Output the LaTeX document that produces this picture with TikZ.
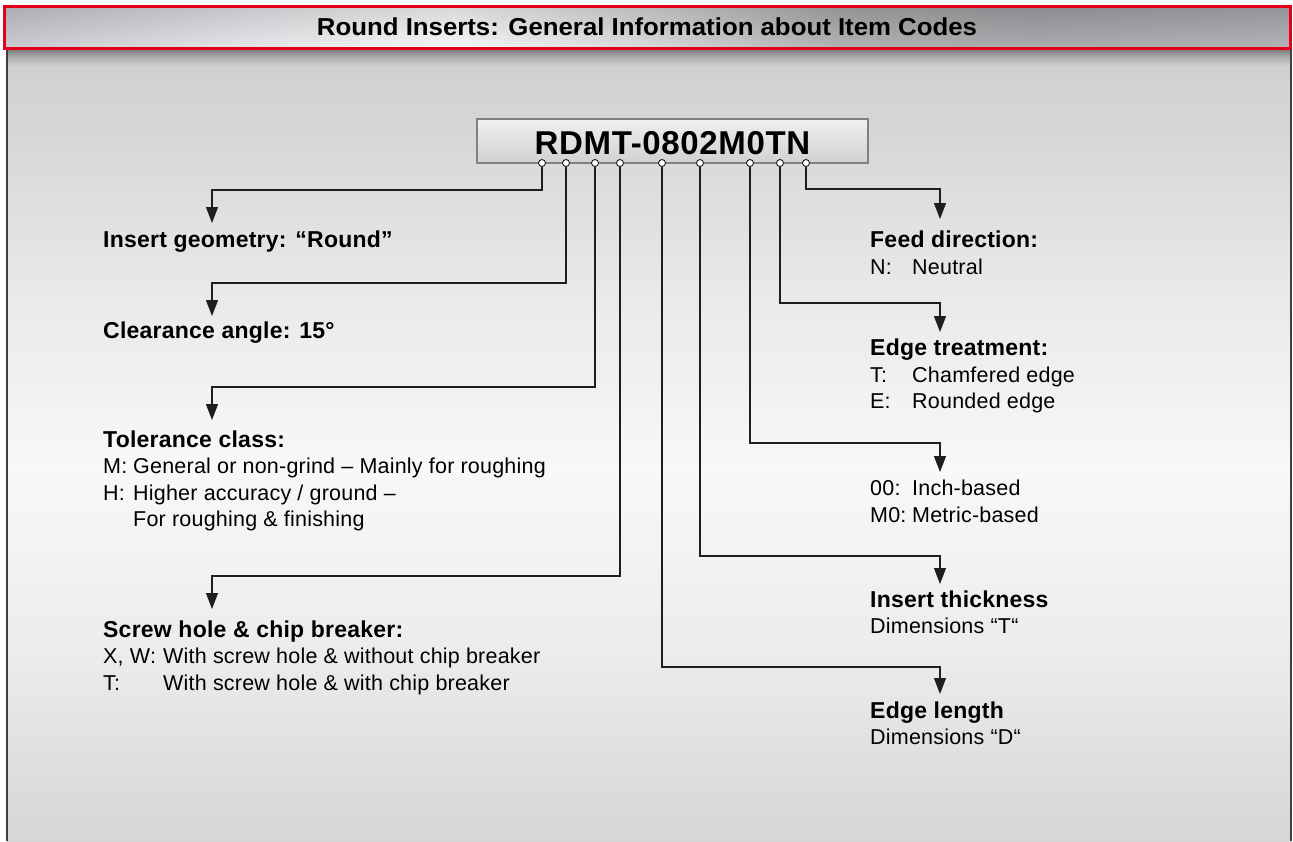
\documentclass[tikz,border=0pt]{standalone}
\usepackage{fontspec}
\setmainfont{Liberation Sans}
\newfontfamily\lab[LetterSpace=1]{Liberation Sans}
\newfontfamily\codef[LetterSpace=2]{Liberation Sans}
\usetikzlibrary{arrows.meta}
\definecolor{redb}{HTML}{E2001A}
\definecolor{linec}{HTML}{1E1E1E}
\definecolor{bga}{HTML}{D6D6D6}
\definecolor{bgb}{HTML}{ECECEC}
\definecolor{bgc}{HTML}{F8F8F8}
\definecolor{bgd}{HTML}{EAEAEA}
\definecolor{bge}{HTML}{D6D6D6}
\definecolor{bgf}{HTML}{D0D0D0}
\definecolor{sha}{HTML}{7C7C7C}
\definecolor{shb}{HTML}{ABABAB}
\definecolor{ta}{HTML}{C4C4CA}
\definecolor{tb}{HTML}{E4E4E8}
\definecolor{tc}{HTML}{F6F6F8}
\definecolor{td}{HTML}{D4D4D6}
\definecolor{te}{HTML}{A8A8AA}
\definecolor{tf}{HTML}{A0A0A4}
\definecolor{tg}{HTML}{AAAAAE}
\pgfdeclareverticalshading{bgshade}{100bp}{color(0bp)=(bge); color(25bp)=(bge); color(37bp)=(bgb); color(48.5bp)=(bgc); color(59bp)=(bgd); color(70bp)=(bga); color(75bp)=(bgf); color(100bp)=(bgf)}
\pgfdeclareverticalshading{shadowshade}{100bp}{color(0bp)=(bgf); color(25bp)=(bgf); color(47.5bp)=(bgf); color(62.5bp)=(shb); color(75bp)=(sha); color(100bp)=(sha)}
\pgfdeclarehorizontalshading{titleshade}{100bp}{color(0bp)=(ta); color(25bp)=(ta); color(35bp)=(tb); color(42.5bp)=(tc); color(50bp)=(td); color(57.5bp)=(te); color(65bp)=(tf); color(75bp)=(tg); color(100bp)=(tg)}
\tikzset{
  conn/.style={draw=linec, line width=1.1pt, -{Triangle[width=12pt,length=16pt]}},
  dot/.style={circle, draw=linec, fill=white, line width=0.9pt, inner sep=0pt, minimum size=7pt},
  head/.style={anchor=base west, inner sep=0pt, font=\lab\bfseries\fontsize{23}{27}\selectfont, text=black},
  body/.style={anchor=base west, inner sep=0pt, font=\lab\fontsize{21.5}{25}\selectfont, text=black},
}
\begin{document}
\begin{tikzpicture}[x=1pt,y=-1pt]
\useasboundingbox (0,0) rectangle (1293,841);
\fill[white] (0,0) rectangle (1293,841);
% panel background
\shade[shading=bgshade] (7,49) rectangle (1291,841);
\shade[shading=shadowshade] (7,49) rectangle (1291,80);
\draw[black!75, line width=2pt] (7,50) -- (7,841);
\draw[black!75, line width=2pt] (1291,50) -- (1291,841);
% title bar
\shade[shading=titleshade] (4,6) rectangle (1290,48);
\shade[top color=black, bottom color=white, fill opacity=0.12] (4,6) rectangle (1290,48);
\draw[redb, line width=3pt] (4,6) rectangle (1290,48);
\node[inner sep=0pt, anchor=base] (title) at (647,35) {\resizebox{660pt}{\height}{\bfseries\fontsize{24.5}{28}\selectfont Round Inserts: General Information about Item Codes}};
% code box
\shade[top color=black!6, middle color=white, bottom color=black!18, draw=black!50, line width=1.3pt] (477,119) rectangle (868,163);
\node[inner sep=0pt, anchor=base, font=\codef\bfseries\fontsize{33}{37}\selectfont] (code) at (672.5,154) {RDMT-0802M0TN};
% dot positions
\coordinate (p1) at (542,163);
\coordinate (p2) at (566,163);
\coordinate (p3) at (595,163);
\coordinate (p4) at (620,163);
\coordinate (p5) at (662,163);
\coordinate (p6) at (700,163);
\coordinate (p7) at (750,163);
\coordinate (p8) at (780,163);
\coordinate (p9) at (806,163);
% bends and arrow targets
\coordinate (a1) at (212,190); \coordinate (t1) at (212,223);
\coordinate (a2) at (212,283); \coordinate (t2) at (212,316);
\coordinate (a3) at (212,387); \coordinate (t3) at (212,420);
\coordinate (a4) at (212,576); \coordinate (t4) at (212,609);
\coordinate (b1) at (940,189); \coordinate (u1) at (940,219);
\coordinate (b2) at (940,303); \coordinate (u2) at (940,332);
\coordinate (b3) at (940,443); \coordinate (u3) at (940,472);
\coordinate (b4) at (940,556); \coordinate (u4) at (940,584);
\coordinate (b5) at (940,667); \coordinate (u5) at (940,694);
% connectors
\draw[conn] (p1) |- (a1) -- (t1);
\draw[conn] (p2) |- (a2) -- (t2);
\draw[conn] (p3) |- (a3) -- (t3);
\draw[conn] (p4) |- (a4) -- (t4);
\draw[conn] (p9) |- (b1) -- (u1);
\draw[conn] (p8) |- (b2) -- (u2);
\draw[conn] (p7) |- (b3) -- (u3);
\draw[conn] (p6) |- (b4) -- (u4);
\draw[conn] (p5) |- (b5) -- (u5);
% dots
\foreach \i in {1,...,9} { \node[dot] (d\i) at (p\i) {}; }
% left labels
\node[head] (l1) at (103,247) {Insert geometry: “Round”};
\node[head] (l2) at (103,338) {Clearance angle: 15°};
\node[head] (l3) at (103,447) {Tolerance class:};
\node[body] (l3ak) at (103,473) {M:};
\node[body] (l3av) at (133,473) {General or non-grind – Mainly for roughing};
\node[body] (l3bk) at (103,500) {H:};
\node[body] (l3bv) at (133,500) {Higher accuracy / ground –};
\node[body] (l3cv) at (133,526) {For roughing \& finishing};
\node[head] (l4) at (103,637) {Screw hole \& chip breaker:};
\node[body] (l4ak) at (103,663) {X, W:};
\node[body] (l4av) at (163,663) {With screw hole \& without chip breaker};
\node[body] (l4bk) at (103,690) {T:};
\node[body] (l4bv) at (163,690) {With screw hole \& with chip breaker};
% right labels
\node[head] (r1) at (870,247) {Feed direction:};
\node[body] (r1ak) at (870,274) {N:};
\node[body] (r1av) at (912,274) {Neutral};
\node[head] (r2) at (870,355) {Edge treatment:};
\node[body] (r2ak) at (870,382) {T:};
\node[body] (r2av) at (912,382) {Chamfered edge};
\node[body] (r2bk) at (870,408) {E:};
\node[body] (r2bv) at (912,408) {Rounded edge};
\node[body] (r3ak) at (870,495) {00:};
\node[body] (r3av) at (912,495) {Inch-based};
\node[body] (r3bk) at (870,522) {M0:};
\node[body] (r3bv) at (912,522) {Metric-based};
\node[head] (r4) at (870,607) {Insert thickness};
\node[body] (r4a) at (870,633) {Dimensions “T“};
\node[head] (r5) at (870,718) {Edge length};
\node[body] (r5a) at (870,744) {Dimensions “D“};
\end{tikzpicture}
\end{document}
